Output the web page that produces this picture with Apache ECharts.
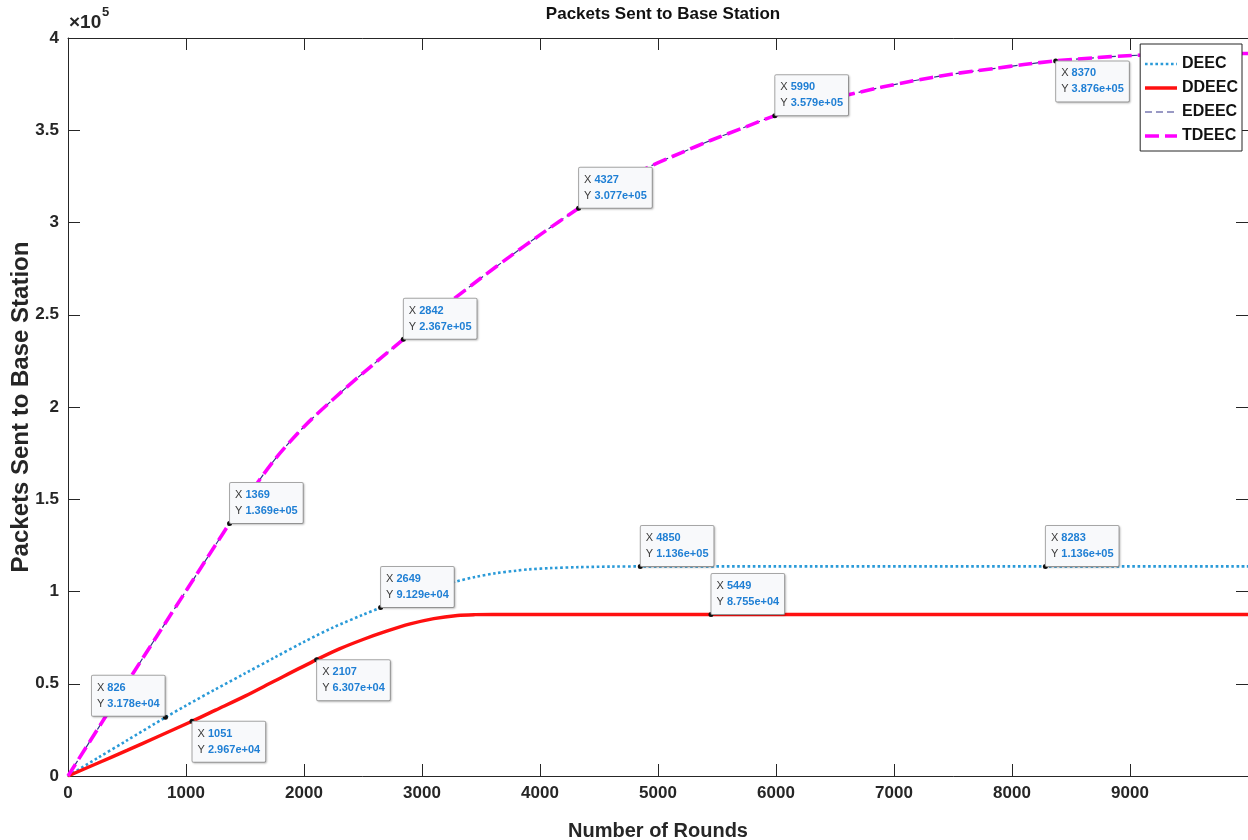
<!DOCTYPE html>
<html>
<head>
<meta charset="utf-8">
<title>Packets Sent to Base Station</title>
<script src="https://cdn.jsdelivr.net/npm/echarts@6/dist/echarts.min.js"></script>
<style>
  html, body { margin: 0; padding: 0; background: #ffffff; }
  #chart { width: 1248px; height: 840px; }
</style>
</head>
<body>
<div id="chart"></div>
<script>
// Cumulative packets delivered to the base station per protocol
const deecRounds  = [0, 250, 500, 826, 1000, 1250, 1500, 1750, 2000, 2250, 2500, 2649, 2900, 3100, 3284, 3450, 3624, 3800, 3905, 4100, 4328, 4600, 4850, 6000, 8283, 10000];
const deecPackets = [0, 9700, 19300, 31780, 38200, 47000, 55600, 64200, 72700, 80600, 87400, 91290, 97600, 101900, 105300, 107900, 109900, 111300, 112000, 112700, 113200, 113500, 113600, 113600, 113600, 113600];

const ddeecRounds  = [0, 250, 500, 750, 1051, 1250, 1500, 1750, 2107, 2300, 2500, 2700, 2900, 3100, 3300, 3450, 3600, 5449, 8000, 10000];
const ddeecPackets = [0, 6900, 13900, 21000, 29670, 35700, 43300, 51500, 63070, 68900, 74000, 78500, 82400, 85300, 87000, 87450, 87550, 87550, 87550, 87550];

const tdeecRounds  = [0, 250, 500, 750, 1000, 1250, 1369, 1500, 1750, 2000, 2250, 2500, 2842, 3000, 3250, 3500, 3750, 4000, 4327, 4600, 4899, 5200, 5455, 5750, 5990, 6300, 6604, 6900, 7123, 7500, 7863, 8100, 8370, 8700, 8974, 9300, 9600, 10000];
const tdeecPackets = [0, 25300, 50500, 75500, 100300, 125200, 136900, 149350, 171350, 189350, 204350, 218350, 236700, 244900, 257600, 269900, 281800, 293300, 307700, 318700, 329400, 337900, 344700, 352000, 357900, 364100, 369100, 373400, 376300, 380500, 383600, 385600, 387600, 389300, 390400, 391100, 391400, 391600];

// EDEEC runs on top of TDEEC over the whole range
const edeecRounds  = tdeecRounds;
const edeecPackets = tdeecPackets;

// Data tips: [round, packets]
const deecTips  = [[826, 31780], [2649, 91290], [4850, 113600], [8283, 113600]];
const ddeecTips = [[1051, 29670], [2107, 63070], [5449, 87550]];
const tdeecTips = [[1369, 136900], [2842, 236700], [4327, 307700], [5990, 357900], [8370, 387600]];

const xTicks = [0, 1000, 2000, 3000, 4000, 5000, 6000, 7000, 8000, 9000];

// Which side of the point each tip box sits on
const tipCorner = {
  826: 'ul', 2649: 'ur', 4850: 'ur', 8283: 'ur',
  1051: 'dr', 2107: 'dr', 5449: 'ur',
  1369: 'ur', 2842: 'ur', 4327: 'ur', 5990: 'ur', 8370: 'dr'
};

const FONT = "'Liberation Sans', Arial, Helvetica, sans-serif";
const AXIS_COLOR = '#262626';

function zip(xs, ys) { return xs.map((x, i) => [x, ys[i]]); }

function fmtExp(v) {
  const e = Math.floor(Math.log10(v));
  const m = v / Math.pow(10, e);
  return m.toFixed(3) + 'e+' + String(e).padStart(2, '0');
}

function tipLabel(corner) {
  const base = {
    show: true,
    fontFamily: FONT,
    fontSize: 11,
    lineHeight: 16,
    backgroundColor: '#f8f9fb',
    borderColor: '#a8a8a8',
    borderWidth: 1,
    borderRadius: 1,
    padding: [4, 5, 4, 5],
    shadowColor: 'rgba(0,0,0,0.18)',
    shadowBlur: 2,
    shadowOffsetX: 1,
    shadowOffsetY: 1,
    align: 'left',
    rich: {
      k: { color: '#3a3a3a', fontSize: 11, fontFamily: FONT, lineHeight: 16 },
      v: { color: '#1f7fd4', fontSize: 11, fontWeight: 'bold', fontFamily: FONT, lineHeight: 16 }
    }
  };
  if (corner === 'ur') { base.position = [3, 2]; base.verticalAlign = 'bottom'; }
  else if (corner === 'dr') { base.position = [3, 3]; base.verticalAlign = 'top'; }
  else { base.position = [-71, 1]; base.verticalAlign = 'bottom'; }
  return base;
}

function tipMarks(tips) {
  return {
    symbol: 'circle',
    symbolSize: 5,
    z: 20,
    itemStyle: { color: '#111111', borderWidth: 0 },
    animation: false,
    data: tips.map(([x, y]) => ({
      coord: [x, y],
      label: Object.assign(tipLabel(tipCorner[x]), {
        formatter: '{k|X }{v|' + x + '}\n{k|Y }{v|' + fmtExp(y) + '}'
      })
    }))
  };
}

const chart = echarts.init(document.getElementById('chart'), null, { renderer: 'canvas' });

const axisCommon = {
  type: 'value',
  axisLine: { show: true, onZero: false, lineStyle: { color: AXIS_COLOR, width: 1 } },
  axisTick: { show: true, inside: true, length: 12, lineStyle: { color: AXIS_COLOR, width: 1 } },
  splitLine: { show: false }
};

const option = {
  backgroundColor: '#ffffff',
  animation: false,
  title: {
    text: 'Packets Sent to Base Station',
    left: 658,
    top: 1,
    textAlign: 'center',
    textStyle: { fontFamily: FONT, fontSize: 17, fontWeight: 'bold', color: '#111111' }
  },
  grid: { left: 68, right: 0, top: 38, bottom: 64, containLabel: false, outerBoundsMode: 'none' },
  legend: {
    orient: 'vertical',
    right: 6,
    top: 44,
    backgroundColor: '#ffffff',
    borderColor: '#262626',
    borderWidth: 1,
    padding: [12, 4, 7, 3],
    itemGap: 8,
    itemWidth: 32,
    itemHeight: 16,
    z: 30,
    itemStyle: { opacity: 0 },
    lineStyle: { width: 'inherit' },
    textStyle: { fontFamily: FONT, fontSize: 16, fontWeight: 'bold', color: '#111111' },
    data: ['DEEC', 'DDEEC', 'EDEEC', 'TDEEC']
  },
  graphic: [
    {
      type: 'text', left: 69, top: 13,
      style: { text: '×10', fontFamily: FONT, fontSize: 19, fontWeight: 'bold', fill: AXIS_COLOR }
    },
    {
      type: 'text', left: 102, top: 6,
      style: { text: '5', fontFamily: FONT, fontSize: 13, fontWeight: 'bold', fill: AXIS_COLOR }
    }
  ],
  xAxis: [
    Object.assign({}, axisCommon, {
      position: 'bottom',
      min: 0, max: 10000, interval: 1000,
      name: 'Number of Rounds',
      nameLocation: 'middle',
      nameGap: 45,
      nameMoveOverlap: false,
      nameTextStyle: { fontFamily: FONT, fontSize: 20, fontWeight: 'bold', color: AXIS_COLOR },
      axisLabel: {
        show: true, margin: 9, showMaxLabel: false,
        fontFamily: FONT, fontSize: 17, fontWeight: 'bold', color: AXIS_COLOR,
        formatter: v => (xTicks.indexOf(v) >= 0 ? String(v) : '')
      }
    }),
    Object.assign({}, axisCommon, {
      position: 'top',
      min: 0, max: 10000, interval: 1000,
      axisLabel: { show: false }
    })
  ],
  yAxis: [
    Object.assign({}, axisCommon, {
      position: 'left',
      min: 0, max: 400000, interval: 50000,
      name: 'Packets Sent to Base Station',
      nameLocation: 'middle',
      nameGap: 35,
      nameMoveOverlap: false,
      nameTextStyle: { fontFamily: FONT, fontSize: 24, fontWeight: 'bold', color: AXIS_COLOR },
      axisLabel: {
        show: true, margin: 9,
        fontFamily: FONT, fontSize: 17, fontWeight: 'bold', color: AXIS_COLOR,
        formatter: v => String(v / 100000)
      }
    }),
    Object.assign({}, axisCommon, {
      position: 'right',
      min: 0, max: 400000, interval: 50000,
      axisLabel: { show: false }
    })
  ],
  series: [
    {
      name: 'DEEC', type: 'line', xAxisIndex: 0, yAxisIndex: 0,
      data: zip(deecRounds, deecPackets),
      showSymbol: false, symbol: 'none', smooth: 0.3, z: 3,
      color: '#2a9ad8',
      lineStyle: { color: '#2a9ad8', width: 2.6, type: [2.6, 2.6], cap: 'butt' },
      markPoint: tipMarks(deecTips)
    },
    {
      name: 'DDEEC', type: 'line', xAxisIndex: 0, yAxisIndex: 0,
      data: zip(ddeecRounds, ddeecPackets),
      showSymbol: false, symbol: 'none', smooth: 0.3, z: 3,
      color: '#ff1010',
      lineStyle: { color: '#ff1010', width: 3.4, type: 'solid' },
      markPoint: tipMarks(ddeecTips)
    },
    {
      name: 'EDEEC', type: 'line', xAxisIndex: 0, yAxisIndex: 0,
      data: zip(edeecRounds, edeecPackets),
      showSymbol: false, symbol: 'none', smooth: 0.3, z: 2,
      color: '#34348a',
      lineStyle: { color: '#34348a', width: 1.2, type: [7, 4] }
    },
    {
      name: 'TDEEC', type: 'line', xAxisIndex: 0, yAxisIndex: 0,
      data: zip(tdeecRounds, tdeecPackets),
      showSymbol: false, symbol: 'none', smooth: 0.3, z: 4,
      color: '#ff00ff',
      lineStyle: { color: '#ff00ff', width: 3.6, type: [14, 6], cap: 'butt' },
      markPoint: tipMarks(tdeecTips)
    }
  ]
};

chart.setOption(option);
</script>
</body>
</html>
